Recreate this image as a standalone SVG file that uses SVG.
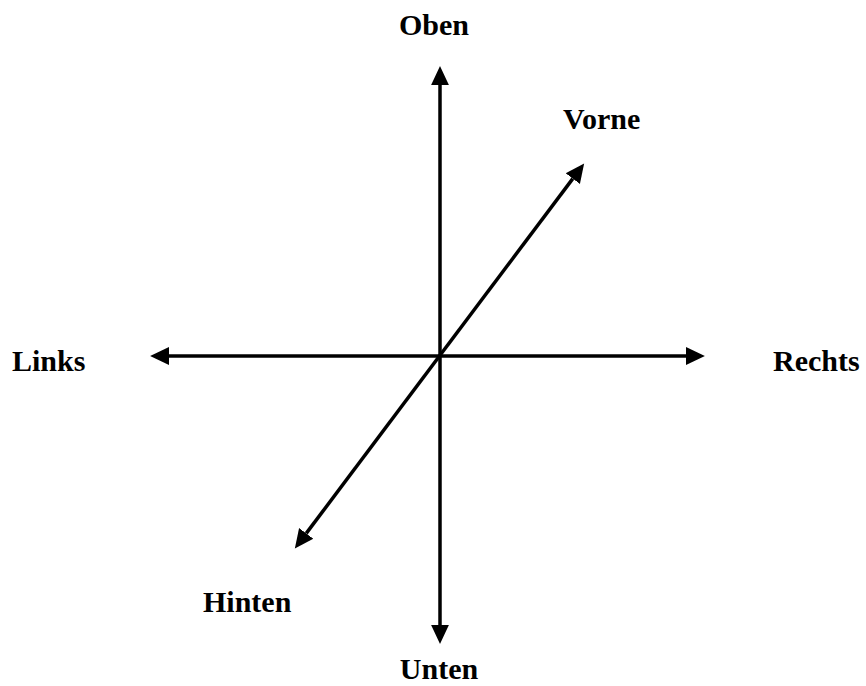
<svg xmlns="http://www.w3.org/2000/svg" width="866" height="686" viewBox="0 0 866 686">
<defs>
<marker id="ah" markerUnits="userSpaceOnUse" markerWidth="20" markerHeight="20" refX="0" refY="8" viewBox="0 0 18 16" orient="auto-start-reverse">
<path d="M0,0 L17,8 L0,16 z" fill="#000"/>
</marker>
<style>
.lbl{font-family:"Liberation Serif","Times New Roman",serif;font-weight:bold;font-size:30px;fill:#000}
.ax{stroke:#000;stroke-width:3.5;fill:none;marker-start:url(#ah);marker-end:url(#ah)}
</style>
</defs>
<rect width="866" height="686" fill="#fff"/>
<g id="connectors">
<line class="ax" x1="440" y1="85" x2="440" y2="625"/>
<line class="ax" x1="169" y1="356" x2="686" y2="356"/>
<line class="ax" x1="306.2" y1="533.4" x2="572.8" y2="178.6"/>
</g>
<g id="oben"><text class="lbl" x="434" y="35" text-anchor="middle">Oben</text></g>
<g id="vorne"><text class="lbl" x="563" y="129">Vorne</text></g>
<g id="links"><text class="lbl" x="12" y="371">Links</text></g>
<g id="rechts"><text class="lbl" x="773" y="371">Rechts</text></g>
<g id="hinten"><text class="lbl" x="203" y="612">Hinten</text></g>
<g id="unten"><text class="lbl" x="439" y="679" text-anchor="middle">Unten</text></g>
</svg>
